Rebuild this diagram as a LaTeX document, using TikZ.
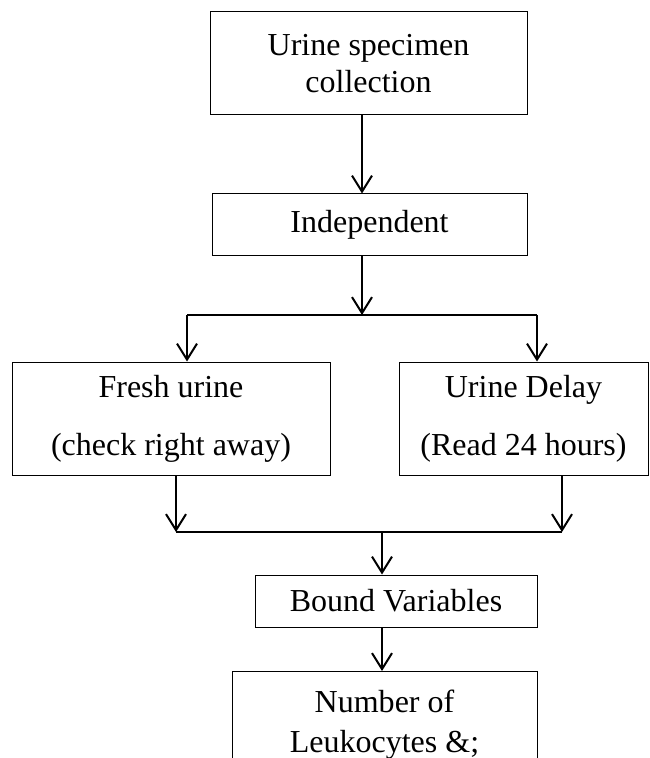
\documentclass[tikz,border=0pt]{standalone}
\usepackage{fontspec}
\setmainfont{Liberation Serif}
\usepackage{tikz}
\usetikzlibrary{positioning}
\usetikzlibrary{arrows.meta}

\tikzset{
  flowbox/.style={rectangle, draw, line width=0.5pt, align=center, inner sep=0pt,
    font=\fontsize{16}{18.5}\selectfont},
  link/.style={line width=1pt},
  arr/.style={link, -{Straight Barb[length=8pt,width=10pt]}}
}

\begin{document}
\begin{tikzpicture}[x=0.5pt,y=-0.5pt]
            \clip (0,0) rectangle (649,758);
            % Boxes
            \node[flowbox, minimum width=158.5pt, minimum height=51.5pt] (coll) at (368.5,63.5) {Urine specimen\\collection};
            \node[flowbox, minimum width=157.5pt, minimum height=31pt] (indep) at (369.5,225) {Independent};
            \node[flowbox, minimum width=159pt, minimum height=56.5pt, font=\fontsize{16}{29}\selectfont] (fresh) at (171,418.5) {Fresh urine\\(check right away)};
            \node[flowbox, minimum width=124.5pt, minimum height=56.5pt, font=\fontsize{16}{29}\selectfont] (delay) at (523.5,418.5) {Urine Delay\\(Read 24 hours)};
            \node[flowbox, minimum width=141pt, minimum height=26pt] (bound) at (396,601) {Bound Variables};
            \node[flowbox, minimum width=152.5pt, anchor=north, inner xsep=0pt, inner ysep=9pt, font=\fontsize{16}{20}\selectfont] (leuko) at (384.5,671) {Number of\\Leukocytes \&;};

            % Junction points
            \coordinate (a1) at (362,0);
            \coordinate (split) at (362,315);
            \coordinate (splitL) at (187,315);
            \coordinate (splitR) at (537,315);
            \coordinate (joinL) at (176,532);
            \coordinate (joinR) at (562,532);
            \coordinate (join) at (382,532);

            % Connectors
            \draw[arr] (coll.south -| a1) -- (indep.north -| a1);
            \draw[arr] (indep.south -| split) -- (split);
            \draw[link] (splitL) -- (splitR);
            \draw[arr] (splitL) -- (splitL |- fresh.north);
            \draw[arr] (splitR) -- (splitR |- delay.north);
            \draw[arr] (fresh.south -| joinL) -- (joinL);
            \draw[arr] (delay.south -| joinR) -- (joinR);
            \draw[link] (joinL) -- (joinR);
            \draw[arr] (join) -- (join |- bound.north);
            \draw[arr] (bound.south -| join) -- (leuko.north -| join);
        \end{tikzpicture}
\end{document}
